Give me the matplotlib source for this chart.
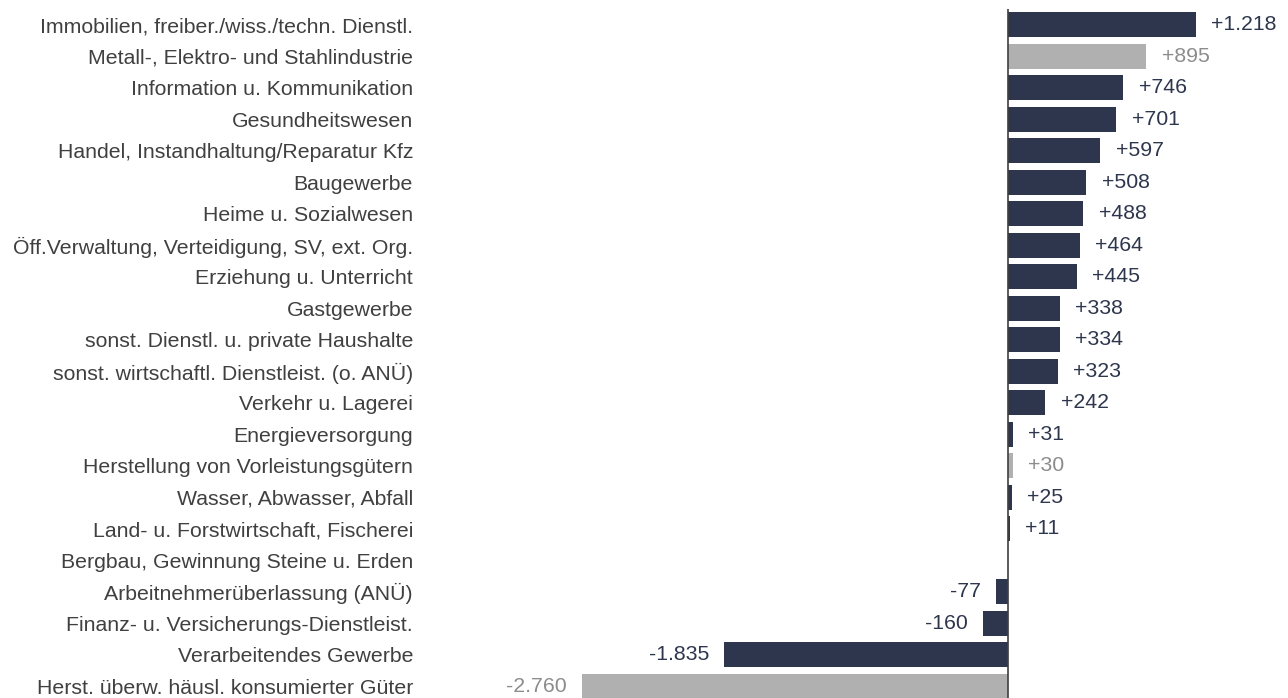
import matplotlib.pyplot as plt

plt.rcParams['font.family'] = ['Liberation Sans', 'DejaVu Sans']

# Daten
branchen = [
    'Immobilien, freiber./wiss./techn. Dienstl.',
    'Metall-, Elektro- und Stahlindustrie',
    'Information u. Kommunikation',
    'Gesundheitswesen',
    'Handel, Instandhaltung/Reparatur Kfz',
    'Baugewerbe',
    'Heime u. Sozialwesen',
    'Öff.Verwaltung, Verteidigung, SV, ext. Org.',
    'Erziehung u. Unterricht',
    'Gastgewerbe',
    'sonst. Dienstl. u. private Haushalte',
    'sonst. wirtschaftl. Dienstleist. (o. ANÜ)',
    'Verkehr u. Lagerei',
    'Energieversorgung',
    'Herstellung von Vorleistungsgütern',
    'Wasser, Abwasser, Abfall',
    'Land- u. Forstwirtschaft, Fischerei',
    'Bergbau, Gewinnung Steine u. Erden',
    'Arbeitnehmerüberlassung (ANÜ)',
    'Finanz- u. Versicherungs-Dienstleist.',
    'Verarbeitendes Gewerbe',
    'Herst. überw. häusl. konsumierter Güter',
]
werte = [1218, 895, 746, 701, 597, 508, 488, 464, 445, 338, 334, 323, 242,
         31, 30, 25, 11, 0, -77, -160, -1835, -2760]
grau = [1, 14, 21]  # Unterbranchen grau hervorgehoben

NAVY = '#2e364d'
GRAU = '#b0b0b0'
GRAU_TXT = '#8c8c8c'
FS = 15.3

W, H = 1288, 698
fig = plt.figure(figsize=(W / 100, H / 100), dpi=100)
ax_left = 420
null_x = 1008
skala = 0.1545  # px pro Einheit
ax = fig.add_axes([ax_left / W, -4 / H, 1 - ax_left / W, 1 + 4 / H - 9 / H])
ax.set_xlim(-(null_x - ax_left) / skala, (W - null_x) / skala)
ax.set_ylim(len(werte) - 0.5, -0.5)

farben = [GRAU if i in grau else NAVY for i in range(len(werte))]
ax.barh(range(len(werte)), werte, height=0.79, color=farben)
ax.axvline(0, color='#404040', lw=1.2)

for i, v in enumerate(werte):
    if v == 0:
        continue
    txt = f'{v:+,}'.replace(',', '.')
    c = GRAU_TXT if i in grau else NAVY
    if v > 0:
        ax.annotate(txt, (v, i), xytext=(11, 0), textcoords='offset points',
                    ha='left', va='center', fontsize=FS, color=c)
    else:
        ax.annotate(txt, (v, i), xytext=(-11, 0), textcoords='offset points',
                    ha='right', va='center', fontsize=FS, color=c)

ax.set_yticks(range(len(werte)))
ax.set_yticklabels(branchen, fontsize=FS, color='#404040')
ax.tick_params(axis='y', length=0, pad=5)
ax.set_xticks([])
for s in ax.spines.values():
    s.set_visible(False)

fig.savefig('out.png', dpi=100)
